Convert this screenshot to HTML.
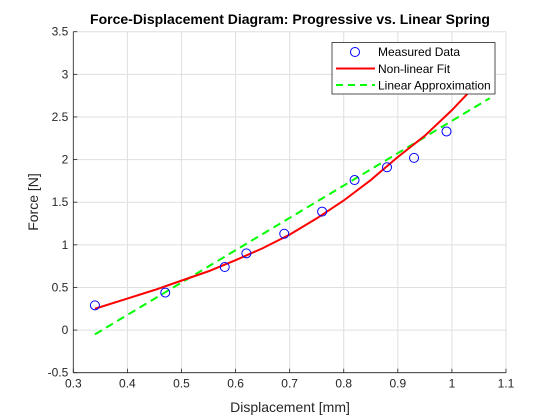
<!DOCTYPE html>
<html><head><meta charset="utf-8"><style>
body{margin:0;background:#fff;}
svg{display:block;font-family:"Liberation Sans",Arial,sans-serif;}
</style></head><body>
<svg id="chart" width="560" height="420">
<rect width="560" height="420" fill="#fff"/>
<g id="grid"></g>
<g id="series"></g>
<g id="axes"></g>
<text x="290" y="24" text-anchor="middle" font-size="14" font-weight="bold" fill="#000">Force-Displacement Diagram: Progressive vs. Linear Spring</text>
<text x="290" y="412" text-anchor="middle" font-size="14" fill="#262626">Displacement [mm]</text>
<text transform="translate(38,202) rotate(-90)" text-anchor="middle" font-size="14" fill="#262626">Force [N]</text>
<g>
<rect x="332" y="42.5" width="163" height="51.5" fill="#fff" stroke="#262626" stroke-width="0.8"/>
<circle cx="355" cy="52" r="4.5" fill="none" stroke="#0000ff" stroke-width="1"/>
<text x="378" y="56" font-size="12" fill="#000">Measured Data</text>
<line x1="336" y1="68.5" x2="375" y2="68.5" stroke="#ff0000" stroke-width="2"/>
<text x="378" y="73" font-size="12" fill="#000">Non-linear Fit</text>
<line x1="336" y1="85" x2="375" y2="85" stroke="#00ff00" stroke-width="2" stroke-dasharray="7,5"/>
<text x="378" y="89.5" font-size="12" fill="#000">Linear Approximation</text>
</g>
</svg>
<script>
const dataX=[0.34,0.47,0.58,0.62,0.69,0.76,0.82,0.88,0.93,0.99];
const dataY=[0.29,0.44,0.74,0.90,1.13,1.39,1.76,1.91,2.02,2.33];
const fitX=[0.34,0.40,0.45,0.50,0.55,0.60,0.65,0.70,0.75,0.80,0.85,0.90,0.95,1.00,1.03];
const fitY=[0.25,0.37,0.47,0.58,0.69,0.82,0.96,1.12,1.31,1.52,1.76,2.03,2.28,2.58,2.78];
const linX=[0.34,1.07];
const linY=[-0.05,2.72];
const xTicks=[0.3,0.4,0.5,0.6,0.7,0.8,0.9,1,1.1];
const yTicks=[-0.5,0,0.5,1,1.5,2,2.5,3,3.5];
const xTickLabels=["0.3","0.4","0.5","0.6","0.7","0.8","0.9","1","1.1"];
const yTickLabels=["-0.5","0","0.5","1","1.5","2","2.5","3","3.5"];

const L=73.3,R=506,T=31.7,B=372.7;
const xs=v=>L+(v-0.3)/(1.1-0.3)*(R-L);
const ys=v=>B-(v+0.5)/(3.5+0.5)*(B-T);
const NS="http://www.w3.org/2000/svg";
function mk(tag,parent,attrs){const e=document.createElementNS(NS,tag);for(const k in attrs)e.setAttribute(k,attrs[k]);parent.appendChild(e);return e;}
const grid=document.getElementById('grid'),axes=document.getElementById('axes'),ser=document.getElementById('series');
xTicks.forEach((t,i)=>{
 const g=mk('line',grid,{x1:xs(t),x2:xs(t),y1:T,y2:B,stroke:'#dfdfdf','stroke-width':1});
 
 
 const tk=mk('line',axes,{x1:xs(t),x2:xs(t),y1:B,y2:B-4,stroke:'#262626','stroke-width':0.8});
 
 
 const tx=mk('text',axes,{x:xs(t),y:B+15,'text-anchor':'middle','font-size':12,fill:'#262626'});
 tx.textContent=xTickLabels[i];
 
 
});
yTicks.forEach((t,i)=>{
 const g=mk('line',grid,{x1:L,x2:R,y1:ys(t),y2:ys(t),stroke:'#dfdfdf','stroke-width':1});
 
 
 const tk=mk('line',axes,{x1:L,x2:L+4,y1:ys(t),y2:ys(t),stroke:'#262626','stroke-width':0.8});
 
 
 const tx=mk('text',axes,{x:L-5,y:ys(t)+4,'text-anchor':'end','font-size':12,fill:'#262626'});
 tx.textContent=yTickLabels[i];
 
 
});
const xa=mk('line',axes,{x1:L,x2:R,y1:B,y2:B,stroke:'#262626','stroke-width':0.8});


const ya=mk('line',axes,{x1:L,x2:L,y1:T,y2:B,stroke:'#262626','stroke-width':0.8});


const lin=mk('polyline',ser,{points:linX.map((x,i)=>xs(x)+','+ys(linY[i])).join(' '),fill:'none',stroke:'#00ff00','stroke-width':2,'stroke-dasharray':'8,5'});


const fit=mk('polyline',ser,{points:fitX.map((x,i)=>xs(x)+','+ys(fitY[i])).join(' '),fill:'none',stroke:'#ff0000','stroke-width':2});


dataX.forEach((x,i)=>{
 const c=mk('circle',ser,{cx:xs(x),cy:ys(dataY[i]),r:4.5,fill:'none',stroke:'#0000ff','stroke-width':1});
 
 
});
</script>
</body></html>
